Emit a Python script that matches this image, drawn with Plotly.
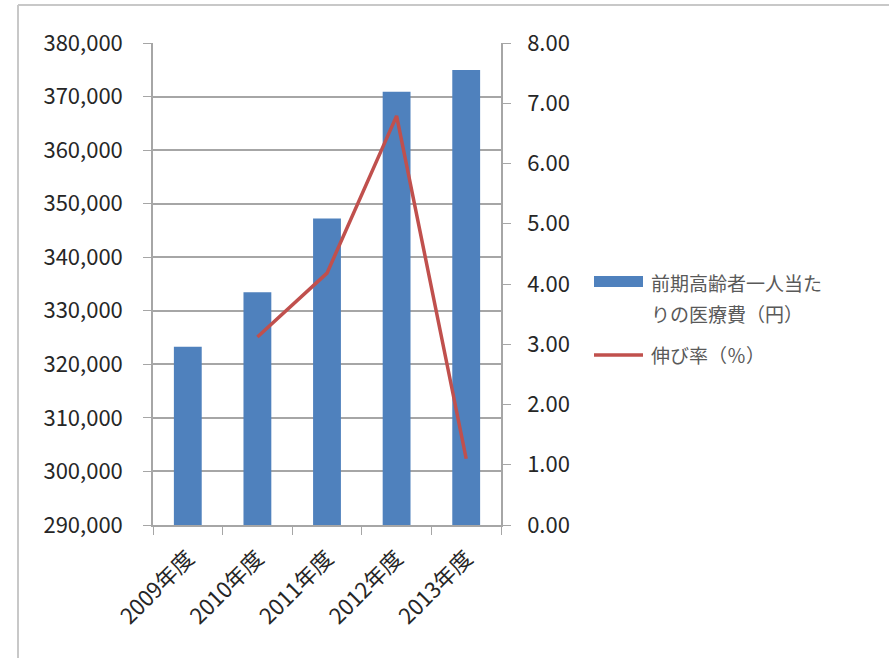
import plotly.graph_objects as go

categories = ["2009年度", "2010年度", "2011年度", "2012年度", "2013年度"]
cost_per_person = [323300, 333450, 347250, 370900, 374950]
growth_rate = [None, 3.12, 4.18, 6.79, 1.10]
bar_name_lines = ["前期高齢者一人当た", "りの医療費（円）"]
line_name = "伸び率（％）"

FONT = "Noto Sans CJK JP, Liberation Sans, sans-serif"
W, H = 889, 658
L, R, T, B = 153, 501, 43, 525
BAR_COLOR = "#4F81BD"
LINE_COLOR = "#C0504D"
LEG_TEXT = "#595959"

fig = go.Figure()
fig.add_trace(go.Bar(x=categories, y=cost_per_person, name="".join(bar_name_lines),
                     marker=dict(color=BAR_COLOR, line=dict(width=0)), yaxis="y",
                     showlegend=False))
fig.add_trace(go.Scatter(x=categories, y=growth_rate, name=line_name, mode="lines",
                         line=dict(color=LINE_COLOR, width=3.5), yaxis="y2",
                         showlegend=False))

def px_x(px):
    return (px - L) / (R - L)

def px_y(py):
    return (B - py) / (B - T)

shapes = [
    dict(type="line", xref="paper", yref="paper",
         x0=px_x(18), x1=px_x(900), y0=px_y(5), y1=px_y(5),
         line=dict(color="#C8C8C8", width=2)),
    dict(type="line", xref="paper", yref="paper",
         x0=px_x(18), x1=px_x(18), y0=px_y(5), y1=px_y(670),
         line=dict(color="#C8C8C8", width=2)),
    # legend keys
    dict(type="rect", xref="paper", yref="paper",
         x0=px_x(594), x1=px_x(643), y0=px_y(276), y1=px_y(287),
         fillcolor=BAR_COLOR, line=dict(width=0)),
    dict(type="line", xref="paper", yref="paper",
         x0=px_x(594), x1=px_x(643), y0=px_y(355), y1=px_y(355),
         line=dict(color=LINE_COLOR, width=3.5)),
]

annotations = [
    dict(text=bar_name_lines[0], xref="paper", yref="paper", x=px_x(649), y=px_y(282),
         xanchor="left", yanchor="middle", showarrow=False,
         font=dict(size=19, color=LEG_TEXT)),
    dict(text=bar_name_lines[1], xref="paper", yref="paper", x=px_x(649), y=px_y(313),
         xanchor="left", yanchor="middle", showarrow=False,
         font=dict(size=19, color=LEG_TEXT)),
    dict(text=line_name, xref="paper", yref="paper", x=px_x(649), y=px_y(355),
         xanchor="left", yanchor="middle", showarrow=False,
         font=dict(size=19, color=LEG_TEXT)),
]

fig.update_layout(
    width=W, height=H,
    margin=dict(l=L, r=W - R, t=T, b=H - B, pad=0),
    paper_bgcolor="white", plot_bgcolor="white",
    font=dict(family=FONT, size=22, color="#262626"),
    bargap=0.6,
    showlegend=False,
    xaxis=dict(showline=True, linecolor="#A6A6A6", linewidth=1.5, ticks="outside",
               tickson="boundaries", ticklen=8, tickcolor="#A6A6A6", tickangle=-45,
               showgrid=False, ticklabelstandoff=10,
               tickfont=dict(size=22, color="#262626")),
    yaxis=dict(range=[290000, 380000], dtick=10000, tickformat=",d",
               showline=True, linecolor="#A6A6A6", linewidth=1.5, ticks="outside",
               ticklen=8, tickcolor="#A6A6A6", showgrid=True, gridcolor="#A6A6A6",
               gridwidth=1.5, zeroline=False, ticklabelstandoff=16,
               tickfont=dict(size=22, color="#262626")),
    yaxis2=dict(range=[0, 8], dtick=1, tickformat=".2f", overlaying="y", side="right",
                showline=True, linecolor="#A6A6A6", linewidth=1.5, ticks="outside",
                ticklen=8, tickcolor="#A6A6A6", showgrid=False, zeroline=False,
                ticklabelstandoff=12, tickfont=dict(size=22, color="#262626")),
    shapes=shapes,
    annotations=annotations,
)

fig.write_html("out.html")
